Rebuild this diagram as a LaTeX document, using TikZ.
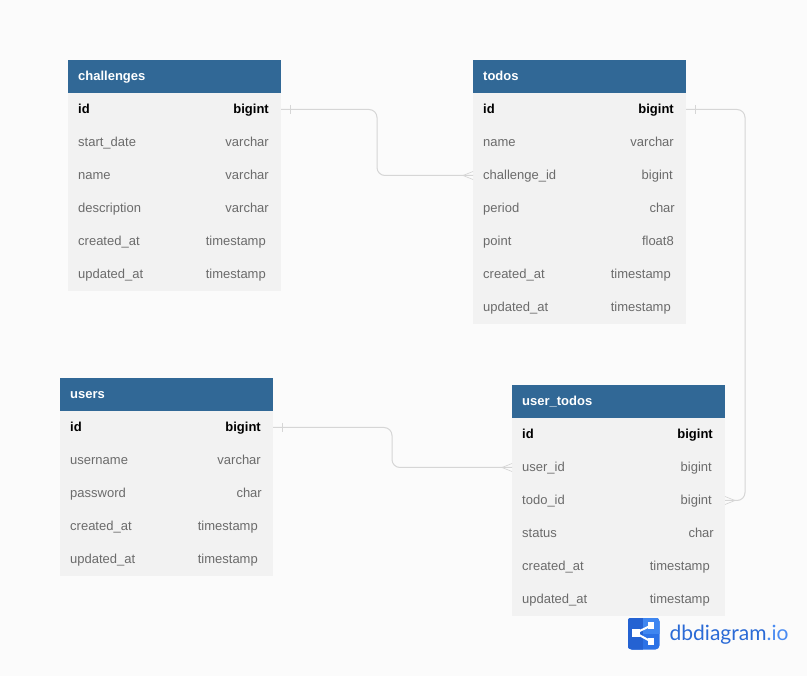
\documentclass[tikz,border=0pt]{standalone}
\usepackage{fontspec}
\setmainfont{Liberation Sans}
\newfontfamily\logofont{Lato}
\usetikzlibrary{calc}
\definecolor{pagebg}{HTML}{FBFBFB}
\definecolor{headblue}{HTML}{316896}
\definecolor{rowgrey}{HTML}{F2F2F2}
\definecolor{fieldgrey}{HTML}{6B6B6B}
\definecolor{linkgrey}{HTML}{D6D6D6}
\definecolor{logodark}{HTML}{2462D2}
\definecolor{logolight}{HTML}{2C72E6}
\definecolor{logotop}{HTML}{3F86F0}
\definecolor{logotext}{HTML}{2A6AD6}
\definecolor{logotextb}{HTML}{4A8CF2}
\tikzset{
  headbox/.style={fill=headblue,minimum width=213pt,minimum height=33pt,inner sep=0pt,outer sep=0pt},
  rowbox/.style={fill=rowgrey,minimum width=213pt,minimum height=33pt,inner sep=0pt,outer sep=0pt},
  headtext/.style={anchor=base west,inner sep=0pt,text=white,font=\fontsize{13}{15}\selectfont\bfseries},
  fieldtext/.style={inner sep=0pt,text=fieldgrey,font=\fontsize{13}{15}\selectfont},
  keytext/.style={inner sep=0pt,text=black,font=\fontsize{13}{15}\selectfont\bfseries},
  link/.style={draw=linkgrey,line width=1pt,rounded corners=8pt},
  mark line/.style={draw=linkgrey,line width=0.7pt}
}
\newcommand{\tablehead}[4]{%
  \node[headbox] (#1) at (#2,#3+16.5) {};
  \node[headtext] (#1-title) at ($(#1.west)+(10,4.5)$) {#4};
}
\newcommand{\tablerow}[7]{%
  \node[rowbox] (#2-#1) at ($(#2.center)+(0,33*#3)$) {};
  \node[#4,anchor=base west] (#2-#1-name) at ($(#2-#1.west)+(10,4.5)$) {#5};
  \node[#4,anchor=base east] (#2-#1-type) at ($(#2-#1.east)+(-#7,4.5)$) {#6};
}
\newcommand{\onemark}[1]{%
  \draw[mark line] ([xshift=9.5pt,yshift=4.5pt]#1.east) -- ([xshift=9.5pt,yshift=-4.5pt]#1.east);
}
\newcommand{\manymarkleft}[1]{%
  \draw[mark line] ([xshift=-10pt]#1.west) -- ([yshift=4pt]#1.west);
  \draw[mark line] ([xshift=-10pt]#1.west) -- ([yshift=-4pt]#1.west);
}
\newcommand{\manymarkright}[1]{%
  \draw[mark line] ([xshift=10pt]#1.east) -- ([yshift=4pt]#1.east);
  \draw[mark line] ([xshift=10pt]#1.east) -- ([yshift=-4pt]#1.east);
}
\begin{document}
\begin{tikzpicture}[x=1pt,y=-1pt]
\useasboundingbox[fill=pagebg] (0,0) rectangle (807,676);
\tablehead{ch}{174.5}{60}{challenges}
\tablerow{id}{ch}{1}{keytext}{id}{bigint}{12}
\tablerow{start}{ch}{2}{fieldtext}{start\_date}{varchar}{12}
\tablerow{name}{ch}{3}{fieldtext}{name}{varchar}{12}
\tablerow{desc}{ch}{4}{fieldtext}{description}{varchar}{12}
\tablerow{created}{ch}{5}{fieldtext}{created\_at}{timestamp}{15}
\tablerow{updated}{ch}{6}{fieldtext}{updated\_at}{timestamp}{15}
\tablehead{to}{579.5}{60}{todos}
\tablerow{id}{to}{1}{keytext}{id}{bigint}{12}
\tablerow{name}{to}{2}{fieldtext}{name}{varchar}{12}
\tablerow{chid}{to}{3}{fieldtext}{challenge\_id}{bigint}{13}
\tablerow{period}{to}{4}{fieldtext}{period}{char}{11}
\tablerow{point}{to}{5}{fieldtext}{point}{float8}{12}
\tablerow{created}{to}{6}{fieldtext}{created\_at}{timestamp}{15}
\tablerow{updated}{to}{7}{fieldtext}{updated\_at}{timestamp}{15}
\tablehead{us}{166.5}{378}{users}
\tablerow{id}{us}{1}{keytext}{id}{bigint}{12}
\tablerow{username}{us}{2}{fieldtext}{username}{varchar}{12}
\tablerow{password}{us}{3}{fieldtext}{password}{char}{11}
\tablerow{created}{us}{4}{fieldtext}{created\_at}{timestamp}{15}
\tablerow{updated}{us}{5}{fieldtext}{updated\_at}{timestamp}{15}
\tablehead{ut}{618.5}{385}{user\_todos}
\tablerow{id}{ut}{1}{keytext}{id}{bigint}{12}
\tablerow{user}{ut}{2}{fieldtext}{user\_id}{bigint}{13}
\tablerow{todo}{ut}{3}{fieldtext}{todo\_id}{bigint}{13}
\tablerow{status}{ut}{4}{fieldtext}{status}{char}{11}
\tablerow{created}{ut}{5}{fieldtext}{created\_at}{timestamp}{15}
\tablerow{updated}{ut}{6}{fieldtext}{updated\_at}{timestamp}{15}
\draw[link] (ch-id.east) -- ++(96,0) |- (to-chid.west);
\onemark{ch-id}\manymarkleft{to-chid}
\draw[link] (to-id.east) -- ++(59,0) |- (ut-todo.east);
\onemark{to-id}\manymarkright{ut-todo}
\draw[link] (us-id.east) -- ++(119,0) |- (ut-user.west);
\onemark{us-id}\manymarkleft{ut-user}
\begin{scope}
\clip[rounded corners=4pt] (627.5,617.5) rectangle (659.5,649.5);
\fill[logolight] (627.5,617.5) rectangle (659.5,649.5);
\fill[logotop] (643,617.5) rectangle (659.5,633.5);
\fill[logodark] (627.5,617.5) rectangle (643,649.5);
\end{scope}
\draw[white,line width=2pt] (635.5,633) -- (651,625.5);
\draw[white,line width=2pt] (635.5,633) -- (651,641.5);
\fill[white] (632,629) rectangle (639.5,637);
\fill[white] (647.5,622) rectangle (654,629);
\fill[white] (647.5,638) rectangle (654,645);
\node[anchor=base west,inner sep=0pt,font=\logofont\fontsize{21}{24}\selectfont,text=logotext] (logo) at (669.5,640.5) {dbdiagram\textcolor{logotextb}{.io}};
\end{tikzpicture}
\end{document}
